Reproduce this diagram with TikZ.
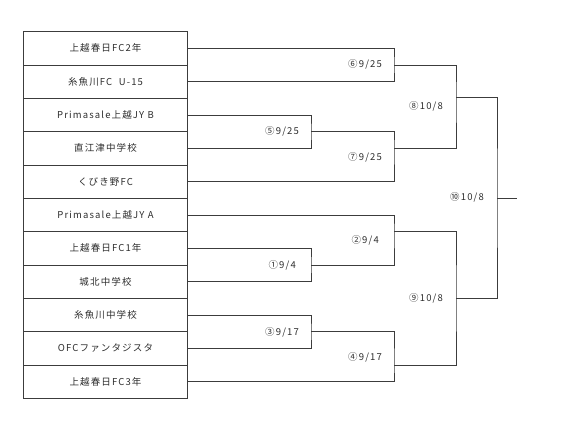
\documentclass[tikz,border=0pt]{standalone}
\usepackage{fontspec}
\setmainfont{Noto Sans CJK JP}
\newfontfamily\teamfont[LetterSpace=12]{Noto Sans CJK JP}
\usetikzlibrary{positioning}
\definecolor{LineGray}{RGB}{60,60,60}
\definecolor{TextGray}{RGB}{45,45,45}

\begin{document}
\begin{tikzpicture}[x=1pt,y=-1pt,node distance=0pt]
    \tikzset{team/.style={draw=LineGray,line width=0.8pt,fill=white,minimum width=164pt,minimum height=33.33pt,outer sep=0pt,inner sep=0pt,text=TextGray,font=\teamfont\fontsize{9.5}{10}\selectfont},
      bracket/.style={draw=LineGray,line width=0.7pt},
      datelabel/.style={anchor=east,inner sep=0pt,text=TextGray,font=\teamfont\fontsize{9.5}{10}\selectfont}}
    \useasboundingbox (0,0) rectangle (566,444);
    % teams
    \node[team,anchor=north west] (t1) at (23.5,31.7) {上越春日FC2年};
    \node[team,below=of t1] (t2) {糸魚川FC\ \ U-15};
    \node[team,below=of t2] (t3) {Primasale上越JY B};
    \node[team,below=of t3] (t4) {直江津中学校};
    \node[team,below=of t4] (t5) {くびき野FC};
    \node[team,below=of t5] (t6) {Primasale上越JY A};
    \node[team,below=of t6] (t7) {上越春日FC1年};
    \node[team,below=of t7] (t8) {城北中学校};
    \node[team,below=of t8] (t9) {糸魚川中学校};
    \node[team,below=of t9] (t10) {OFCファンタジスタ};
    \node[team,below=of t10] (t11) {上越春日FC3年};
    % match points
    \coordinate (m5) at (311,131.7);
    \coordinate (m6) at (394,65);
    \coordinate (m7) at (394,148.3);
    \coordinate (m8) at (456,97.7);
    \coordinate (m1) at (311,265);
    \coordinate (m2) at (394,231.7);
    \coordinate (m3) at (311,331.7);
    \coordinate (m4) at (394,365);
    \coordinate (m9) at (456,298.3);
    \coordinate (m10) at (497,198.3);
    \coordinate (win) at (517,198.3);
    % brackets
    \draw[bracket] (t1.east) -| (m6) |- (t2.east);
    \draw[bracket] (t3.east) -| (m5) |- (t4.east);
    \draw[bracket] (m5) -| (m7) |- (t5.east);
    \draw[bracket] (m6) -| (m8) |- (m7);
    \draw[bracket] (t7.east) -| (m1) |- (t8.east);
    \draw[bracket] (t6.east) -| (m2) |- (m1);
    \draw[bracket] (t9.east) -| (m3) |- (t10.east);
    \draw[bracket] (m3) -| (m4) |- (t11.east);
    \draw[bracket] (m2) -| (m9) |- (m4);
    \draw[bracket] (m8) -| (m10) |- (m9);
    \draw[bracket] (m10) -- (win);
    % dates
    \node[datelabel] (l5) at (299,131) {⑤9/25};
    \node[datelabel] (l6) at (382,64) {⑥9/25};
    \node[datelabel] (l7) at (382,157) {⑦9/25};
    \node[datelabel] (l8) at (443,106) {⑧10/8};
    \node[datelabel] (l1) at (296,265) {①9/4};
    \node[datelabel] (l2) at (379,240) {②9/4};
    \node[datelabel] (l3) at (299,332) {③9/17};
    \node[datelabel] (l4) at (382,357) {④9/17};
    \node[datelabel] (l9) at (443,298.3) {⑨10/8};
    \node[datelabel] (l10) at (484,197.5) {⑩10/8};
  \end{tikzpicture}
\end{document}
